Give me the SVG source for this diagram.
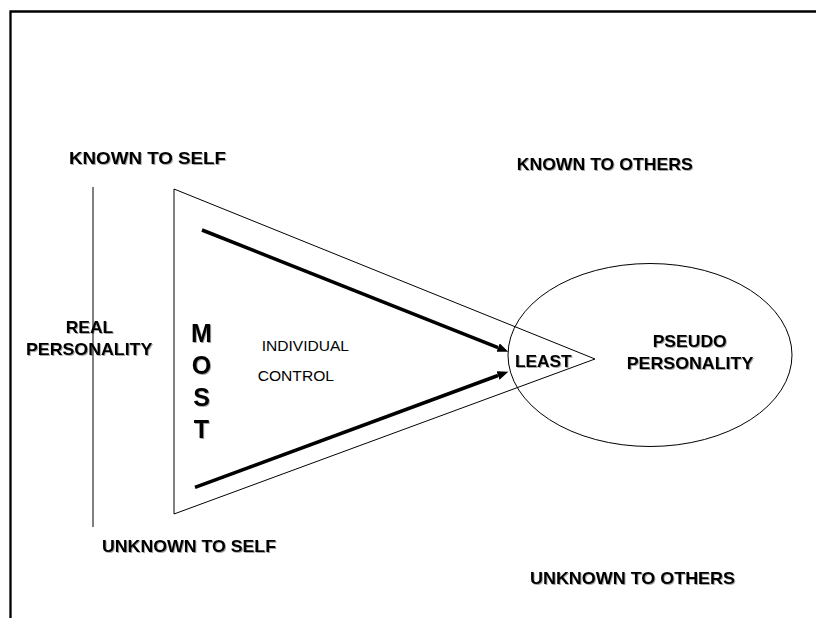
<svg xmlns="http://www.w3.org/2000/svg" width="816" height="618" viewBox="0 0 816 618">
<defs>
<style>
.b{font-family:"Liberation Sans",Arial,sans-serif;font-weight:bold;font-size:17px;fill:#000}
.r{font-family:"Liberation Sans",Arial,sans-serif;font-size:15.5px;fill:#000}
.m{font-family:"Liberation Sans",Arial,sans-serif;font-weight:bold;font-size:25px;fill:#000;text-anchor:middle}
.thin{fill:none;stroke:#000;stroke-width:1}
.arrow{fill:none;stroke:#000;stroke-width:3.5;marker-end:url(#ah)}
.sh{filter:url(#shadow)}
</style>
<marker id="ah" markerUnits="userSpaceOnUse" markerWidth="12" markerHeight="10" refX="0" refY="4.5" orient="auto">
<path d="M0,0 L11,4.5 L0,9 z" fill="#000"/>
</marker>
<filter id="shadow" x="-10%" y="-20%" width="130%" height="150%">
<feDropShadow dx="1" dy="1" stdDeviation="0.6" flood-color="#000" flood-opacity="0.35"/>
</filter>
</defs>
<rect width="816" height="618" fill="#fff"/>
<g id="frame">
<path d="M10.5,618 L10.5,11.5 L816,11.5" fill="none" stroke="#000" stroke-width="2.3"/>
</g>
<g id="divider">
<line class="thin" x1="93" y1="187" x2="93" y2="527"/>
</g>
<g id="triangle">
<polygon class="thin" points="174,189 174,514 595,359"/>
</g>
<g id="ellipse">
<ellipse class="thin" cx="650" cy="355" rx="142" ry="91.5" stroke-width="1.3"/>
</g>
<g id="connectors">
<line class="arrow" x1="202" y1="230" x2="498.1" y2="347.6"/>
<line class="arrow" x1="195" y1="487.3" x2="498" y2="375.5"/>
</g>
<g id="labels">
<text class="b sh" x="69" y="164" textLength="157" lengthAdjust="spacingAndGlyphs">KNOWN TO SELF</text>
<text class="b sh" x="516.7" y="170" textLength="176" lengthAdjust="spacingAndGlyphs">KNOWN TO OTHERS</text>
<text class="b sh" x="102" y="552" textLength="174" lengthAdjust="spacingAndGlyphs">UNKNOWN TO SELF</text>
<text class="b sh" x="530" y="584" textLength="205" lengthAdjust="spacingAndGlyphs">UNKNOWN TO OTHERS</text>
</g>
<g id="real-personality">
<text class="b sh" x="65.7" y="332.7" textLength="47.6" lengthAdjust="spacingAndGlyphs">REAL</text>
<text class="b sh" x="26" y="355" textLength="126.3" lengthAdjust="spacingAndGlyphs">PERSONALITY</text>
</g>
<g id="most">
<text class="m sh" x="201.5" y="341.7">M</text>
<text class="m sh" x="201.5" y="373.7">O</text>
<text class="m sh" x="201.5" y="405.7">S</text>
<text class="m sh" x="201.5" y="438.3">T</text>
</g>
<g id="individual-control">
<text class="r" x="261.7" y="351" textLength="87.3" lengthAdjust="spacingAndGlyphs">INDIVIDUAL</text>
<text class="r" x="257.7" y="381" textLength="76.3" lengthAdjust="spacingAndGlyphs">CONTROL</text>
</g>
<g id="least">
<text class="b sh" x="515" y="366.7" textLength="56.7" lengthAdjust="spacingAndGlyphs">LEAST</text>
</g>
<g id="pseudo-personality">
<text class="b sh" x="652.7" y="347.3" textLength="74" lengthAdjust="spacingAndGlyphs">PSEUDO</text>
<text class="b sh" x="626.7" y="369" textLength="126.6" lengthAdjust="spacingAndGlyphs">PERSONALITY</text>
</g>
</svg>
